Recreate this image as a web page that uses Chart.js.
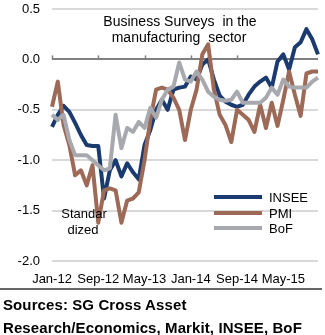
<!DOCTYPE html>
<html>
<head>
<meta charset="utf-8">
<script src="https://cdn.jsdelivr.net/npm/chart.js@4"></script>
<style>
  body { margin: 0; background: #fff; font-family: Arial, "Liberation Sans", sans-serif; }
  #wrap { position: relative; width: 325px; height: 335px; }
  #box { position: absolute; left: 0; top: 0; width: 325px; height: 290px; }
  #rule { position: absolute; left: 0; top: 288px; width: 322px; height: 2px; background: #666; }
  .src { position: absolute; left: 3px; font-weight: bold; font-size: 15px; letter-spacing: 0.1px; color: #000; white-space: nowrap; line-height: 18px; }
</style>
</head>
<body>
<div id="wrap">
  <div id="box"><canvas id="myChart"></canvas></div>
  <div id="rule"></div>
  <div class="src" style="top:296px">Sources: SG Cross Asset</div>
  <div class="src" style="top:319px">Research/Economics, Markit, INSEE, BoF</div>
</div>
<script>
// monthly, Jan-12 .. Nov-15
var monthNames = ["Jan", "Feb", "Mar", "Apr", "May", "Jun", "Jul", "Aug", "Sep", "Oct", "Nov", "Dec"];
var months = [];
for (var m = 0; m < 47; m++) {
  months.push(monthNames[m % 12] + "-" + (12 + Math.floor(m / 12)));
}
var tickLabels = ["Jan-12", "Sep-12", "May-13", "Jan-14", "Sep-14", "May-15"];
var yTicks = [0.5, 0.0, -0.5, -1.0, -1.5, -2.0];

var insee = [
  -0.67, -0.55, -0.46, -0.52, -0.63, -0.75, -0.85, -0.86, -0.86, -1.38,
  -1.10, -1.00, -1.16, -1.03, -1.12, -1.19, -0.85, -0.70, -0.50, -0.40,
  -0.50, -0.30, -0.28, -0.27, -0.17, -0.20, -0.05, 0.00, -0.20, -0.36,
  -0.42, -0.45, -0.47, -0.45, -0.35, -0.27, -0.22, -0.18, -0.28, -0.02,
  0.05, -0.10, 0.12, 0.17, 0.30, 0.20, 0.05
];
var pmi = [
  -0.47, -0.22, -0.65, -0.85, -1.15, -1.10, -1.25, -1.05, -1.62, -1.30,
  -1.28, -1.30, -1.62, -1.40, -1.38, -1.32, -1.00, -0.60, -0.30, -0.28,
  -0.30, -0.38, -0.50, -0.80, -0.50, -0.30, 0.05, 0.15, -0.30, -0.55,
  -0.65, -0.82, -0.50, -0.55, -0.60, -0.72, -0.45, -0.68, -0.43, -0.66,
  -0.40, -0.12, -0.35, -0.56, -0.14, -0.12, -0.12
];
var bof = [
  -0.55, -0.60, -0.55, -0.80, -0.95, -0.95, -0.95, -1.00, -1.05, -1.10,
  -1.08, -0.55, -0.88, -0.68, -0.72, -0.62, -0.68, -0.48, -0.58, -0.40,
  -0.30, -0.27, -0.03, -0.20, -0.22, -0.12, -0.20, -0.32, -0.37, -0.40,
  -0.41, -0.40, -0.32, -0.43, -0.43, -0.43, -0.43, -0.38, -0.28, -0.35,
  -0.20, -0.27, -0.28, -0.28, -0.28, -0.22, -0.18
];

var FONT = "Arial, 'Liberation Sans', sans-serif";

// text, zero-line ticks and legend inside the plot
var extras = {
  id: "extras",
  beforeDatasetsDraw: function (chart) {
    var ctx = chart.ctx, x = chart.scales.x, y = chart.scales.y;
    var y0 = y.getPixelForValue(0);
    ctx.save();
    ctx.strokeStyle = "#808080";
    ctx.lineWidth = 1.5;
    for (var i = 0; i < months.length; i += 8) {
      var px = Math.round(x.getPixelForValue(i)) + 0.5;
      ctx.beginPath();
      ctx.moveTo(px, y0 - 4);
      ctx.lineTo(px, y0);
      ctx.stroke();
    }
    ctx.restore();
  },
  afterDatasetsDraw: function (chart) {
    var ctx = chart.ctx;
    ctx.save();
    ctx.fillStyle = "#000";
    ctx.font = "14px " + FONT;
    ctx.textAlign = "center";
    ctx.textBaseline = "middle";
    ctx.fillText("Business Surveys  in the", 180, 22);
    ctx.fillText("manufacturing  sector", 179, 38);
    ctx.font = "13px " + FONT;
    ctx.fillText("Standar", 84, 214);
    ctx.fillText("dized", 83, 230);

    // legend
    var rows = [197, 213, 228];
    chart.data.datasets.forEach(function (ds, k) {
      ctx.strokeStyle = ds.borderColor;
      ctx.lineWidth = 4;
      ctx.beginPath();
      ctx.moveTo(214, rows[k]);
      ctx.lineTo(262, rows[k]);
      ctx.stroke();
      ctx.textAlign = "left";
      ctx.fillText(ds.label, 269, rows[k] + 1);
    });
    ctx.restore();
  }
};

document.addEventListener("DOMContentLoaded", function () {
  const ctx = document.getElementById("myChart");

  new Chart(ctx, {
    type: "line",
    data: {
      labels: months,
      datasets: [
        { label: "INSEE", data: insee, borderColor: "#1b3a70", order: 3 },
        { label: "PMI", data: pmi, borderColor: "#9c6a56", order: 2 },
        { label: "BoF", data: bof, borderColor: "#a8a9ae", order: 1 }
      ]
    },
    options: {
      responsive: true,
      maintainAspectRatio: false,
      animation: false,
      layout: { padding: { top: 9, right: 7, left: 0, bottom: 0 } },
      elements: {
        line: { borderWidth: 4, tension: 0, borderJoinStyle: "round", borderCapStyle: "butt" },
        point: { radius: 0 }
      },
      plugins: {
        legend: { display: false },
        tooltip: { enabled: false }
      },
      scales: {
        x: {
          offset: false,
          grid: { display: false, drawTicks: false },
          border: { display: false },
          afterFit: function (scale) {
            scale.height = 29;
            scale.paddingLeft = 0;
            scale.paddingRight = 0;
          },
          ticks: {
            autoSkip: false,
            maxRotation: 0,
            padding: 11,
            color: "#000",
            font: { family: FONT, size: 13 },
            callback: function (v, i) {
              return tickLabels.indexOf(months[i]) >= 0 ? months[i] : "";
            }
          }
        },
        y: {
          min: -2,
          max: 0.5,
          afterFit: function (scale) {
            scale.width = 52;
            scale.paddingTop = 0;
            scale.paddingBottom = 0;
          },
          afterBuildTicks: function (scale) {
            scale.ticks = yTicks.map(function (v) { return { value: v }; });
          },
          grid: {
            drawTicks: false,
            lineWidth: 2,
            color: function (c) { return c.tick && c.tick.value === 0 ? "#808080" : "#d9d9d9"; }
          },
          border: { display: false },
          ticks: {
            padding: 12,
            color: "#000",
            font: { family: FONT, size: 13 },
            callback: function (v) { return v.toFixed(1); }
          }
        }
      }
    },
    plugins: [extras]
  });
});
</script>
</body>
</html>
